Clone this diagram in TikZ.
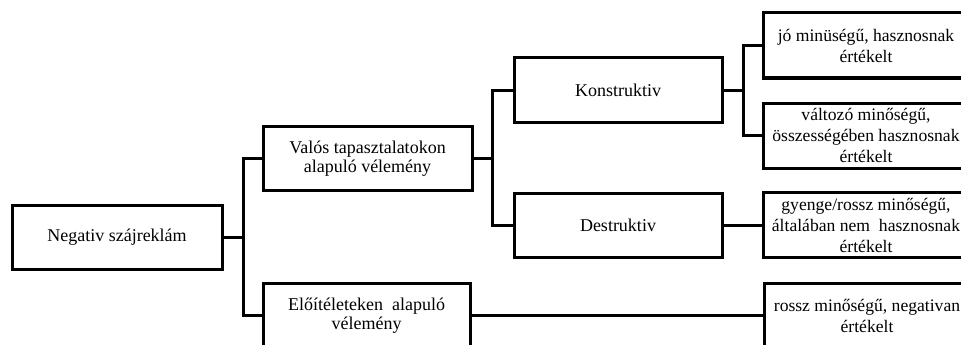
\documentclass[tikz,border=0pt]{standalone}
\usepackage{fontspec}
\setmainfont{Liberation Serif}
\begin{document}
\begin{tikzpicture}[x=1pt,y=-1pt,
  box/.style={draw=black,line width=3pt,line join=miter,fill=white,rectangle,
    minimum width=#1,minimum height=64pt,inner sep=0pt,align=center,
    font=\fontsize{18}{19.5}\selectfont},
  box/.default=209pt,
  rbox/.style={box=206pt,minimum height=65pt,font=\fontsize{17.6}{21}\selectfont},
  link/.style={line width=3pt,line join=miter}]
\useasboundingbox (0,0) rectangle (961,345);
\clip (0,0) rectangle (961,345);
\node[box=210pt] (b1) at (117,237) {Negativ szájreklám};
\node[box] (b2) at (367.5,158.5) {Valós tapasztalatokon\\alapuló vélemény};
\node[box=208pt] (b3) at (618,90) {Konstruktiv};
\node[box=208pt] (b4) at (618,225) {Destruktiv};
\node[box=207pt,minimum height=65pt] (b9) at (366.5,315.5) {Előítéleteken\ \ alapuló\\vélemény};
\node[rbox] (b5) at (866,45.5) {jó minüségű, hasznosnak\\értékelt};
\node[rbox] (b6) at (866,135.5) {változó minőségű,\\összességében hasznosnak\\értékelt};
\node[rbox] (b7) at (866,225) {gyenge/rossz minőségű,\\általában nem\ \ hasznosnak\\értékelt};
\node[rbox] (b8) at (867,315.5) {rossz minőségű, negativan\\értékelt};
\coordinate (j1) at (243,315.5);
\coordinate (j2) at (492,225);
\coordinate (j3) at (743,135.5);
\draw[link] (b1.east) -- (b1.east -| j1);
\draw[link] (b2.west) -| (j1) -- (b9.west);
\draw[link] (b2.east) -- (b2.east -| j2);
\draw[link] (b3.west) -| (j2) -- (b4.west);
\draw[link] (b3.east) -- (b3.east -| j3);
\draw[link] (b5.west) -| (j3) -- (b6.west);
\draw[link] (b4.east) -- (b7.west);
\draw[link] (b9.east) -- (b8.west);
\end{tikzpicture}
\end{document}
